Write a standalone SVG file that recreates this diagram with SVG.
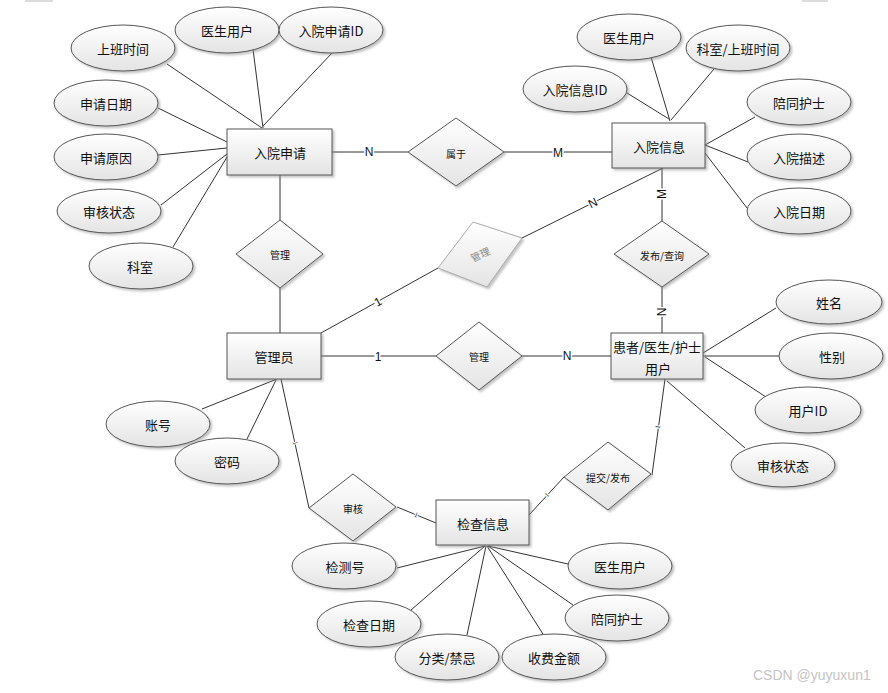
<svg xmlns="http://www.w3.org/2000/svg" width="888" height="693" viewBox="0 0 888 693">
<defs>
<linearGradient id="g" x1="0" y1="0" x2="0" y2="1">
<stop offset="0" stop-color="#ffffff"/>
<stop offset="1" stop-color="#e4e4e4"/>
</linearGradient>
<filter id="sh" x="-20%" y="-20%" width="150%" height="160%">
<feDropShadow dx="2" dy="2" stdDeviation="1" flood-color="#888" flood-opacity="0.5"/>
</filter>
<style>
.ent{fill:url(#g);stroke:#555;stroke-width:1;filter:url(#sh)}
.att{fill:url(#g);stroke:#555;stroke-width:1;filter:url(#sh)}
.rel{fill:url(#g);stroke:#555;stroke-width:1;filter:url(#sh)}
.relg{fill:url(#g);stroke:#aaa;stroke-width:1;filter:url(#sh)}
.t{font-family:"Noto Sans CJK SC","Liberation Sans",sans-serif;font-size:13px;fill:#111;text-anchor:middle;dominant-baseline:central}
.tr{font-family:"Noto Sans CJK SC","Liberation Sans",sans-serif;font-size:10px;fill:#111;text-anchor:middle;dominant-baseline:central}
.trg{font-family:"Noto Sans CJK SC","Liberation Sans",sans-serif;font-size:10px;fill:#888;text-anchor:middle;dominant-baseline:central}
.c line{stroke:#333;stroke-width:1}
.lb{font-family:"Liberation Sans",sans-serif;font-size:12px;fill:#111;text-anchor:middle;dominant-baseline:central;stroke:#fff;stroke-width:3;paint-order:stroke}
.tk{font-family:"Liberation Serif",serif;font-size:7px;fill:#222;text-anchor:middle;dominant-baseline:central;stroke:#fff;stroke-width:2;paint-order:stroke}
</style>
</defs>
<rect width="888" height="693" fill="#fff"/>
<rect x="25" y="0" width="28" height="2" fill="#ddd"/>
<rect x="802" y="0" width="26" height="2" fill="#ddd"/>

<g id="connectors" class="c">
<line x1="167" y1="64" x2="262" y2="128"/>
<line x1="253" y1="49" x2="263" y2="128"/>
<line x1="332" y1="53" x2="263" y2="126"/>
<line x1="158" y1="108" x2="227" y2="142"/>
<line x1="158" y1="155" x2="227" y2="148"/>
<line x1="161" y1="205" x2="227" y2="154"/>
<line x1="173" y1="247" x2="227" y2="157"/>
<line x1="332" y1="152" x2="408" y2="152"/>
<line x1="504" y1="152" x2="612" y2="152"/>
<line x1="627" y1="93" x2="669" y2="119"/>
<line x1="651" y1="57" x2="670" y2="121"/>
<line x1="714" y1="69" x2="671" y2="120"/>
<line x1="755" y1="117" x2="705" y2="145"/>
<line x1="748" y1="162" x2="705" y2="145"/>
<line x1="747" y1="208" x2="705" y2="153"/>
<line x1="280" y1="175" x2="280" y2="220"/>
<line x1="280" y1="288" x2="280" y2="333"/>
<line x1="321" y1="333" x2="438" y2="268"/>
<line x1="522" y1="238" x2="663" y2="168"/>
<line x1="662" y1="168" x2="662" y2="221"/>
<line x1="662" y1="287" x2="662" y2="333"/>
<line x1="321" y1="356" x2="436" y2="356"/>
<line x1="522" y1="356" x2="611" y2="356"/>
<line x1="703" y1="353" x2="776" y2="308"/>
<line x1="703" y1="356" x2="779" y2="356"/>
<line x1="705" y1="357" x2="766" y2="397"/>
<line x1="667" y1="381" x2="745" y2="448"/>
<line x1="665" y1="379" x2="652" y2="475"/>
<line x1="564" y1="477" x2="529" y2="515"/>
<line x1="281" y1="379" x2="309" y2="508"/>
<line x1="397" y1="507" x2="436" y2="523"/>
<line x1="202" y1="409" x2="277" y2="379"/>
<line x1="247" y1="439" x2="276" y2="380"/>
<line x1="485" y1="546" x2="397" y2="568"/>
<line x1="485" y1="546" x2="411" y2="610"/>
<line x1="486" y1="546" x2="467" y2="635"/>
<line x1="487" y1="546" x2="543" y2="634"/>
<line x1="488" y1="546" x2="573" y2="605"/>
<line x1="488" y1="546" x2="568" y2="564"/>
<text class="lb" x="369" y="152">N</text>
<text class="lb" x="558" y="153">M</text>
<text class="lb" transform="translate(378,302) rotate(-29)">1</text>
<text class="lb" transform="translate(593,203) rotate(-26)">N</text>
<text class="lb" transform="translate(662,194) rotate(-90)">M</text>
<text class="lb" transform="translate(662,312) rotate(-90)">N</text>
<text class="lb" x="378" y="357">1</text>
<text class="lb" x="567" y="356">N</text>
<text class="tk" transform="translate(295,443) rotate(77.8)">1</text>
<text class="tk" transform="translate(416,515) rotate(21.8)">1</text>
<text class="tk" transform="translate(547,495) rotate(-46.5)">1</text>
<text class="tk" transform="translate(658,427) rotate(-82.2)">1</text>
</g>

<g id="ruyuanshenqing"><rect class="ent" x="227" y="129" width="105" height="46"/><text class="t" x="280" y="152">入院申请</text></g>
<g id="ruyuanxinxi"><rect class="ent" x="612" y="123" width="93" height="45"/><text class="t" x="659" y="146">入院信息</text></g>
<g id="guanliyuan"><rect class="ent" x="227" y="333" width="94" height="46"/><text class="t" x="274" y="356">管理员</text></g>
<g id="yonghu"><rect class="ent" x="611" y="333" width="92" height="46"/><text class="t" x="657" y="346">患者/医生/护士</text><text class="t" x="658" y="368">用户</text></g>
<g id="jianchaxinxi"><rect class="ent" x="436" y="500" width="93" height="45"/><text class="t" x="483" y="523">检查信息</text></g>

<g id="r_guanli1"><polygon class="rel" points="236,254 280,220 323,254 280,288"/><text class="tr" x="280" y="254">管理</text></g>
<g id="r_shuyu"><polygon class="rel" points="408,152 456,118 504,152 456,186"/><text class="tr" x="456" y="153">属于</text></g>
<g id="r_fabu"><polygon class="rel" points="614,254 662,221 709,254 662,287"/><text class="tr" x="662" y="255">发布/查询</text></g>
<g id="r_guanli2"><polygon class="relg" points="438,268 473,222 522,238 487,287"/><text class="trg" transform="translate(480,254) rotate(-25)">管理</text></g>
<g id="r_guanli3"><polygon class="rel" points="436,356 479,322 522,356 479,390"/><text class="tr" x="479" y="356">管理</text></g>
<g id="r_tijiao"><polygon class="rel" points="564,477 608,442 651,474 608,510"/><text class="tr" x="608" y="477">提交/发布</text></g>
<g id="r_shenhe"><polygon class="rel" points="309,508 353,474 396,507 353,541"/><text class="tr" x="353" y="508">审核</text></g>

<g id="a_sbsj"><ellipse class="att" cx="123" cy="48" rx="52" ry="23"/><text class="t" x="123" y="48">上班时间</text></g>
<g id="a_ysyh1"><ellipse class="att" cx="227" cy="30" rx="52" ry="23"/><text class="t" x="227" y="30">医生用户</text></g>
<g id="a_rysqid"><ellipse class="att" cx="331" cy="30" rx="52" ry="23"/><text class="t" x="331" y="30">入院申请ID</text></g>
<g id="a_sqrq"><ellipse class="att" cx="106" cy="103" rx="52" ry="23"/><text class="t" x="106" y="103">申请日期</text></g>
<g id="a_sqyy"><ellipse class="att" cx="106" cy="157" rx="52" ry="23"/><text class="t" x="106" y="157">申请原因</text></g>
<g id="a_shzt1"><ellipse class="att" cx="109" cy="211" rx="52" ry="22"/><text class="t" x="109" y="211">审核状态</text></g>
<g id="a_ks"><ellipse class="att" cx="141" cy="266" rx="52" ry="23"/><text class="t" x="140" y="266">科室</text></g>

<g id="a_ysyh2"><ellipse class="att" cx="629" cy="37" rx="52" ry="23"/><text class="t" x="629" y="37">医生用户</text></g>
<g id="a_kssb"><ellipse class="att" cx="738" cy="48" rx="52" ry="23"/><text class="t" x="738" y="48">科室/上班时间</text></g>
<g id="a_ryxxid"><ellipse class="att" cx="575" cy="89" rx="52" ry="23"/><text class="t" x="575" y="89">入院信息ID</text></g>
<g id="a_pths1"><ellipse class="att" cx="799" cy="102" rx="52" ry="23"/><text class="t" x="799" y="102">陪同护士</text></g>
<g id="a_ryms"><ellipse class="att" cx="799" cy="157" rx="52" ry="23"/><text class="t" x="799" y="157">入院描述</text></g>
<g id="a_ryrq"><ellipse class="att" cx="799" cy="211" rx="52" ry="23"/><text class="t" x="799" y="211">入院日期</text></g>

<g id="a_xm"><ellipse class="att" cx="829" cy="302" rx="53" ry="22"/><text class="t" x="829" y="302">姓名</text></g>
<g id="a_xb"><ellipse class="att" cx="831" cy="356" rx="52" ry="23"/><text class="t" x="832" y="356">性别</text></g>
<g id="a_yhid"><ellipse class="att" cx="808" cy="410" rx="53" ry="23"/><text class="t" x="808" y="410">用户ID</text></g>
<g id="a_shzt2"><ellipse class="att" cx="783" cy="465" rx="52" ry="22"/><text class="t" x="783" y="465">审核状态</text></g>

<g id="a_zh"><ellipse class="att" cx="158" cy="424" rx="52" ry="23"/><text class="t" x="158" y="424">账号</text></g>
<g id="a_mm"><ellipse class="att" cx="227" cy="461" rx="52" ry="23"/><text class="t" x="227" y="461">密码</text></g>

<g id="a_jch"><ellipse class="att" cx="344" cy="566" rx="52" ry="23"/><text class="t" x="345" y="566">检测号</text></g>
<g id="a_jcrq"><ellipse class="att" cx="369" cy="624" rx="52" ry="23"/><text class="t" x="369" y="624">检查日期</text></g>
<g id="a_fljj"><ellipse class="att" cx="447" cy="657" rx="52" ry="23"/><text class="t" x="447" y="657">分类/禁忌</text></g>
<g id="a_sfje"><ellipse class="att" cx="554" cy="657" rx="52" ry="23"/><text class="t" x="554" y="657">收费金额</text></g>
<g id="a_pths2"><ellipse class="att" cx="617" cy="618" rx="52" ry="23"/><text class="t" x="617" y="618">陪同护士</text></g>
<g id="a_ysyh3"><ellipse class="att" cx="620" cy="566" rx="52" ry="23"/><text class="t" x="620" y="566">医生用户</text></g>

<text x="753" y="680" font-family="Liberation Sans, sans-serif" font-size="14" fill="#c4c4c4">CSDN @yuyuxun1</text>
</svg>
